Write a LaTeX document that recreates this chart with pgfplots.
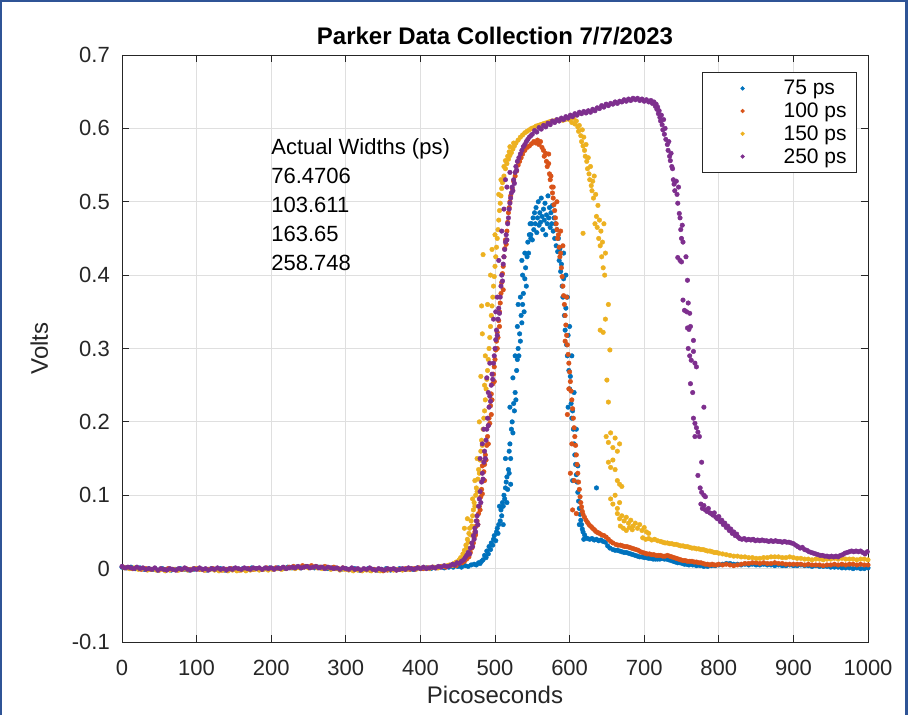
\documentclass[border=0pt]{standalone}
\usepackage{fontspec}
\setmainfont{Liberation Sans}
\usepackage{pgfplots}
\pgfplotsset{compat=1.18}
\definecolor{mblue}{rgb}{0,0.447,0.741}
\definecolor{morange}{rgb}{0.85,0.325,0.098}
\definecolor{myellow}{rgb}{0.929,0.694,0.125}
\definecolor{mpurple}{rgb}{0.494,0.184,0.556}
\definecolor{gridc}{rgb}{0.875,0.875,0.875}
\definecolor{axc}{rgb}{0.15,0.15,0.15}
\definecolor{framec}{RGB}{47,84,150}
\begin{document}
\begin{tikzpicture}
\useasboundingbox (0pt,0pt) rectangle (909pt,715pt);
\fill[white] (0pt,0pt) rectangle (909pt,715pt);
\begin{axis}[
  at={(122pt,73pt)}, anchor=south west,
  scale only axis, width=746pt, height=587pt,
  xmin=0, xmax=1000, ymin=-0.1, ymax=0.7,
  xtick={0,100,...,1000},
  ytick={-0.1,0,0.1,0.2,0.3,0.4,0.5,0.6,0.7},
  xticklabels={0,100,200,300,400,500,600,700,800,900,1000},
  yticklabels={-0.1,0,0.1,0.2,0.3,0.4,0.5,0.6,0.7},
  tick align=inside, major tick length=7pt,
  tick style={axc, line width=0.8pt},
  axis line style={axc, line width=0.8pt},
  grid=major, grid style={gridc, line width=0.8pt},
  ticklabel style={font=\fontsize{22}{26}\selectfont, text=axc, inner sep=0pt},
  xticklabel style={anchor=base, yshift=-33pt},
  yticklabel style={anchor=east, xshift=-12pt},
  title={Parker Data Collection 7/7/2023},
  title style={font=\bfseries\fontsize{24}{28}\selectfont, at={(axis description cs:0.5,1.0068)}, anchor=base, inner sep=0pt},
  xlabel={Picoseconds},
  xlabel style={font=\fontsize{24}{28}\selectfont, text=axc, at={(axis description cs:0.5,-0.104)}, anchor=base, inner sep=0pt},
  ylabel={Volts},
  ylabel style={font=\fontsize{24}{28}\selectfont, text=axc, at={(axis description cs:-0.0992,0.5)}, anchor=base, inner sep=0pt},
  legend style={at={(axis description cs:0.9853,0.971)}, anchor=north east, draw=axc, line width=0.8pt, fill=white,
    inner xsep=8pt, inner ysep=6pt, font=\fontsize{21}{24}\selectfont, nodes={inner sep=2pt}, row sep=2.6pt},
  legend cell align=left,
  legend image code/.code={\path[draw=none,fill=none] (0pt,0pt) -- (71pt,0pt); \fill (32pt,0pt) circle (1.7pt);},
  every axis plot/.append style={only marks, mark=*, mark size=2.3pt, mark options={draw=none}},
]
% 75 ps
\addplot[color=mblue, mark options={fill=mblue}] coordinates {
(0,0.002)(6,0.001)(12,0.002)(18,0.000)(24,0.001)(30,-0.001)(36,0.000)(42,-0.001)(48,-0.002)(54,0.000)(60,-0.001)(66,-0.002)(72,-0.001)(78,0.000)(84,-0.001)(90,-0.002)(96,-0.001)(102,0.000)(108,-0.001)(114,-0.002)(120,0.000)(126,-0.001)(132,0.000)(138,-0.002)(144,-0.001)(150,0.000)(156,-0.001)(162,0.000)(168,-0.001)(174,0.001)(180,0.000)(186,-0.001)(192,0.000)(198,0.001)(204,0.000)(210,0.001)(216,0.000)(222,0.002)(228,0.001)(234,0.002)(240,0.001)(246,0.003)(252,0.002)(258,0.001)(264,0.002)(270,0.001)(276,0.000)(282,0.001)(288,0.000)(294,-0.001)(300,0.000)(306,-0.001)(312,0.000)(318,-0.002)(324,-0.001)(330,0.000)(336,-0.001)(342,-0.002)(348,-0.001)(354,0.000)(360,-0.002)(366,-0.001)(372,0.000)(378,-0.001)(384,0.000)(390,-0.001)(396,0.001)(402,0.000)(408,0.001)(414,0.000)(420,0.001)(426,0.002)(432,0.001)(438,0.002)
(444,0.002)(450,0.003)(455,0.002)(460,0.004)(464,0.003)(468,0.005)(472,0.006)(475,0.005)(478,0.008)(480,0.007)(482,0.010)
(484,0.012)(486,0.018)(488,0.015)(489,0.024)(491,0.020)(492,0.030)(494,0.026)(495,0.035)(497,0.032)(498,0.040)(499,0.045)(501,0.038)(502,0.050)(503,0.055)(504,0.048)(505,0.060)(507,0.065)(508,0.080)(509,0.072)(510,0.090)(511,0.085)(512,0.100)(513,0.095)(514,0.110)(515,0.118)(516,0.125)(517,0.108)(518,0.135)(519,0.160)(520,0.170)(521,0.150)(522,0.190)(523,0.200)(524,0.185)(525,0.225)(526,0.215)(527,0.240)(528,0.230)(529,0.270)(530,0.285)(531,0.300)(532,0.290)(533,0.320)(534,0.310)(535,0.345)(536,0.335)(537,0.360)(538,0.375)(539,0.350)(540,0.395)(541,0.410)(542,0.385)(543,0.425)(544,0.445)(545,0.430)(546,0.455)(547,0.470)(548,0.450)
(519,0.130)(514,0.150)(524,0.260)(520,0.220)(530,0.330)(527,0.290)(534,0.370)(531,0.360)(537,0.400)(540,0.430)(536,0.420)(516,0.090)(521,0.115)(511,0.060)(506,0.085)
(548,0.455)(549,0.470)(550,0.448)(551,0.478)(552,0.462)(553,0.485)(554,0.470)(555,0.492)(556,0.458)(557,0.478)(558,0.500)(559,0.468)(560,0.485)(561,0.472)(562,0.505)(563,0.480)(564,0.462)(565,0.490)(566,0.475)(567,0.498)(568,0.455)(569,0.482)(570,0.470)(571,0.508)(572,0.478)(573,0.492)(574,0.465)(575,0.485)(576,0.470)(577,0.495)(578,0.460)(579,0.478)(580,0.450)(581,0.470)(582,0.440)(583,0.462)(584,0.432)(585,0.450)(586,0.420)(587,0.436)(588,0.405)(589,0.415)
(590,0.385)(591,0.370)(592,0.395)(593,0.345)(594,0.325)(595,0.355)(596,0.305)(597,0.290)(598,0.318)(599,0.270)(600,0.245)(601,0.262)(602,0.225)(603,0.205)(604,0.215)(605,0.190)(606,0.170)(607,0.155)(608,0.142)(609,0.128)(610,0.118)(611,0.104)(612,0.092)(613,0.082)(614,0.074)(615,0.066)(616,0.060)(617,0.054)(618,0.050)(620,0.046)(622,0.042)(624,0.041)(627,0.040)(630,0.041)(633,0.039)(636,0.040)(636,0.110)(639,0.038)(642,0.039)(645,0.037)(648,0.036)(651,0.031)(654,0.028)
(592,0.430)(595,0.400)(597,0.370)(600,0.330)(603,0.290)(598,0.220)(606,0.240)(609,0.190)(604,0.120)(611,0.140)(613,0.060)(619,0.040)
(658,0.026)(661,0.025)(664,0.025)(667,0.024)(670,0.023)(673,0.022)(676,0.022)(679,0.021)(682,0.020)(685,0.019)(688,0.018)(691,0.017)(694,0.016)(697,0.016)(700,0.015)(703,0.015)(706,0.014)(709,0.014)(712,0.013)(715,0.013)(718,0.013)(721,0.013)(724,0.014)(727,0.013)(730,0.013)(733,0.012)(736,0.011)(739,0.010)(742,0.009)(745,0.008)(748,0.008)(751,0.007)(754,0.006)(757,0.006)(760,0.005)(765,0.005)(770,0.004)(775,0.004)(780,0.003)(785,0.003)(790,0.004)(795,0.004)(800,0.005)(805,0.006)(810,0.007)(815,0.007)(820,0.006)(825,0.006)(830,0.005)(835,0.006)(840,0.005)(845,0.006)(850,0.005)(855,0.005)(860,0.006)(865,0.005)(870,0.005)(875,0.004)(880,0.005)(885,0.004)(890,0.004)(895,0.005)(900,0.004)(905,0.004)(910,0.005)(915,0.004)(920,0.004)(925,0.003)(930,0.004)(935,0.003)(940,0.003)(945,0.003)(950,0.002)(955,0.002)(960,0.002)(965,0.001)(970,0.001)(975,0.001)(980,0.000)(985,0.001)(990,0.000)(995,0.000)(1000,0.001)
};
\addlegendentry{75 ps}
% 100 ps
\addplot[color=morange, mark options={fill=morange}] coordinates {
(2,0.002)(8,0.001)(14,0.000)(20,0.001)(26,-0.001)(32,0.000)(38,-0.001)(44,0.000)(50,-0.002)(56,-0.001)(62,0.000)(68,-0.001)(74,-0.002)(80,-0.001)(86,0.000)(92,-0.001)(98,0.000)(104,-0.001)(110,-0.002)(116,-0.001)(122,0.000)(128,-0.001)(134,-0.002)(140,-0.001)(146,0.000)(152,-0.001)(158,-0.002)(164,-0.001)(170,0.000)(176,-0.001)(182,0.000)(188,-0.001)(194,0.001)(200,0.000)(206,0.001)(212,0.000)(218,0.001)(224,0.002)(230,0.003)(236,0.002)(242,0.004)(248,0.003)(254,0.004)(260,0.003)(266,0.002)(272,0.003)(278,0.001)(284,0.002)(290,0.000)(296,0.001)(302,-0.001)(308,0.000)(314,-0.001)(320,-0.002)(326,-0.001)(332,-0.002)(338,-0.001)(344,-0.002)(350,-0.003)(356,-0.002)(362,-0.001)(368,-0.002)(374,-0.001)(380,0.000)(386,-0.001)(392,0.000)(398,0.001)(404,0.000)(410,0.001)(416,0.002)(422,0.001)(428,0.003)(434,0.002)(440,0.004)
(444,0.005)(448,0.004)(452,0.007)(456,0.008)(459,0.010)(462,0.013)(465,0.016)(467,0.022)(469,0.028)(471,0.035)(472,0.042)(473,0.050)(474,0.046)(475,0.058)(476,0.065)(477,0.060)(478,0.075)(479,0.085)(480,0.080)(481,0.098)(482,0.108)(483,0.102)(484,0.120)(485,0.132)(486,0.142)(487,0.155)(488,0.148)(489,0.168)(490,0.180)(491,0.195)(492,0.205)(493,0.198)(494,0.222)(495,0.238)(496,0.230)(497,0.252)(498,0.265)(499,0.275)(500,0.285)(501,0.298)(502,0.310)(503,0.322)(504,0.315)(505,0.338)(506,0.350)(507,0.362)(508,0.375)(509,0.390)(510,0.402)(511,0.412)(512,0.425)(513,0.436)(514,0.448)(515,0.442)(516,0.460)(517,0.472)(518,0.485)(519,0.492)(520,0.500)(521,0.508)(523,0.518)(525,0.528)(527,0.535)(529,0.542)(531,0.550)(533,0.555)(535,0.560)(537,0.565)(540,0.570)(543,0.574)(546,0.576)(549,0.579)(552,0.582)(555,0.580)(557,0.584)(559,0.578)(561,0.582)(563,0.574)(565,0.570)(566,0.562)(568,0.566)(569,0.555)(570,0.548)(572,0.552)(573,0.538)(574,0.530)(575,0.535)(576,0.520)(577,0.512)(578,0.505)(579,0.496)(580,0.488)(581,0.478)(582,0.470)(583,0.462)(584,0.450)(585,0.455)(586,0.438)(587,0.425)(588,0.430)(589,0.410)(590,0.398)(591,0.385)(592,0.372)(593,0.360)(594,0.345)(595,0.332)(596,0.318)(597,0.305)(598,0.292)(599,0.280)(600,0.268)(601,0.255)(602,0.242)(603,0.230)(604,0.218)(605,0.205)(606,0.192)(607,0.180)(608,0.168)(609,0.155)(610,0.142)(611,0.130)(612,0.118)(613,0.108)(614,0.098)(615,0.090)(616,0.084)(617,0.078)(618,0.074)(620,0.070)(622,0.066)(624,0.063)(626,0.060)(628,0.058)(630,0.056)(632,0.054)(634,0.052)(636,0.050)(638,0.049)(640,0.048)(643,0.046)(646,0.045)(649,0.043)(652,0.040)(655,0.037)(658,0.035)
(583,0.500)(588,0.460)(591,0.440)(596,0.370)(594,0.310)(599,0.245)(597,0.210)(603,0.170)(601,0.130)(606,0.120)(604,0.080)(609,0.075)(578,0.520)(572,0.565)(486,0.120)(483,0.140)(491,0.170)(495,0.210)(499,0.255)(503,0.300)(506,0.330)(511,0.380)
(662,0.033)(665,0.032)(668,0.032)(671,0.031)(674,0.030)(677,0.030)(680,0.029)(683,0.028)(686,0.027)(689,0.026)(692,0.025)(695,0.023)(698,0.022)(701,0.021)(704,0.020)(707,0.020)(710,0.019)(713,0.019)(716,0.018)(719,0.018)(722,0.018)(725,0.017)(728,0.017)(731,0.018)(734,0.017)(737,0.016)(740,0.015)(743,0.014)(746,0.013)(749,0.012)(752,0.011)(755,0.011)(758,0.010)(761,0.010)(764,0.010)(767,0.009)(770,0.009)(773,0.008)(776,0.008)(779,0.007)(782,0.006)(785,0.006)(788,0.005)(791,0.006)(794,0.005)(797,0.005)(800,0.006)(805,0.005)(810,0.006)(815,0.005)(820,0.004)(825,0.005)(830,0.006)(835,0.007)(840,0.007)(845,0.008)(850,0.008)(855,0.007)(860,0.008)(865,0.007)(870,0.007)(875,0.008)(880,0.007)(885,0.007)(890,0.006)(895,0.006)(900,0.006)(905,0.006)(910,0.006)(915,0.005)(920,0.006)(925,0.005)(930,0.005)(935,0.005)(940,0.004)(945,0.005)(950,0.005)(955,0.006)(960,0.005)(965,0.006)(970,0.005)(975,0.006)(980,0.006)(985,0.005)(990,0.006)(995,0.005)(1000,0.005)
};
\addlegendentry{100 ps}
% 150 ps
\addplot[color=myellow, mark options={fill=myellow}] coordinates {
(4,0.001)(10,0.000)(16,0.001)(22,-0.001)(28,0.000)(34,-0.002)(40,-0.001)(46,-0.002)(52,-0.001)(58,-0.003)(64,-0.002)(70,-0.001)(76,-0.002)(82,-0.001)(88,-0.002)(94,-0.001)(100,0.000)(106,-0.001)(112,-0.002)(118,-0.001)(124,-0.002)(130,-0.003)(136,-0.002)(142,-0.003)(148,-0.002)(154,-0.003)(160,-0.002)(166,-0.003)(172,-0.002)(178,-0.001)(184,-0.002)(190,-0.001)(196,-0.002)(202,-0.001)(208,0.000)(214,-0.001)(220,0.000)(226,0.001)(232,0.000)(238,0.001)(244,0.002)(250,0.001)(256,0.002)(262,0.001)(268,0.000)(274,0.001)(280,-0.001)(286,0.000)(292,-0.002)(298,-0.001)(304,-0.002)(310,-0.003)(316,-0.002)(322,-0.003)(328,-0.002)(334,-0.003)(340,-0.002)(346,-0.003)(352,-0.002)(358,-0.001)(364,-0.002)(370,-0.001)(376,-0.002)(382,-0.001)(388,0.000)(394,-0.001)(400,0.000)(406,0.001)(412,0.000)(418,0.002)(424,0.001)(430,0.003)(436,0.004)
(439,0.005)(442,0.004)(445,0.007)(448,0.009)(450,0.008)(452,0.012)(454,0.015)(456,0.013)(457,0.020)(459,0.025)(459,0.055)(460,0.018)(461,0.032)(462,0.028)(463,0.040)(463,0.068)(464,0.036)(465,0.048)(466,0.055)(467,0.046)(468,0.065)(469,0.058)(470,0.072)(471,0.080)(472,0.090)(473,0.085)(474,0.100)(475,0.110)(476,0.105)(477,0.122)(478,0.135)(479,0.130)(479,0.200)(480,0.148)(481,0.160)(481,0.262)(482,0.175)(482,0.358)(483,0.168)(484,0.190)(484,0.428)(485,0.205)(486,0.215)(486,0.250)(487,0.230)(488,0.245)(489,0.258)(490,0.270)(491,0.285)(492,0.300)(493,0.315)(494,0.330)(495,0.345)(496,0.358)(496,0.435)(497,0.370)(498,0.385)(499,0.398)(500,0.412)(501,0.425)(502,0.438)(503,0.450)(504,0.462)(505,0.475)(506,0.488)(507,0.498)(508,0.508)(509,0.518)(510,0.526)(512,0.535)(512,0.548)(514,0.545)(514,0.556)(516,0.552)(517,0.562)(518,0.558)(519,0.568)(520,0.563)(520,0.575)(522,0.567)(524,0.572)(525,0.580)(526,0.576)(528,0.580)(531,0.584)(534,0.588)(537,0.591)(540,0.594)(543,0.596)(546,0.598)(549,0.600)(552,0.601)(555,0.603)(558,0.604)(561,0.605)(564,0.606)(567,0.607)(570,0.608)(573,0.609)(576,0.610)(579,0.610)(582,0.611)(585,0.611)(588,0.612)(591,0.611)(594,0.612)(597,0.613)
(487,0.290)(483,0.320)(490,0.360)(494,0.400)(500,0.455)(505,0.510)(508,0.530)(476,0.150)(473,0.120)(470,0.095)
(600,0.612)(603,0.608)(605,0.614)(607,0.606)(609,0.610)(611,0.602)(612,0.596)(613,0.604)(615,0.590)(616,0.582)(617,0.598)(618,0.576)(618,0.457)(619,0.588)(620,0.570)(621,0.562)(622,0.578)(623,0.555)(624,0.545)(625,0.560)(626,0.538)(627,0.530)(628,0.548)(629,0.522)(630,0.515)(631,0.528)(632,0.505)(633,0.535)(634,0.470)(635,0.510)(636,0.480)(637,0.465)(638,0.495)(639,0.450)(640,0.475)(641,0.440)(642,0.460)(643,0.425)(644,0.445)(645,0.410)(646,0.470)(647,0.400)(648,0.430)(641,0.325)(645,0.322)(648,0.340)(652,0.360)(654,0.298)(650,0.257)(652,0.227)(649,0.180)(652,0.172)(655,0.185)(658,0.165)(661,0.178)(664,0.160)(667,0.170)(652,0.145)(655,0.138)(658,0.148)(661,0.135)(664,0.120)(667,0.115)(670,0.112)(655,0.095)(658,0.088)(661,0.100)(664,0.082)(667,0.090)(664,0.075)(667,0.068)(670,0.072)(673,0.065)(676,0.070)(679,0.062)(682,0.066)(685,0.058)(688,0.062)(691,0.055)(694,0.060)(697,0.052)(700,0.056)(703,0.050)(706,0.048)(668,0.058)(672,0.055)(676,0.052)(680,0.056)(684,0.053)
(698,0.042)(702,0.040)(706,0.041)(710,0.039)(714,0.040)(718,0.038)(722,0.037)(725,0.036)(728,0.035)(731,0.035)(734,0.034)(737,0.034)(740,0.033)(743,0.033)(746,0.032)(749,0.031)(752,0.031)(755,0.030)(758,0.030)(761,0.029)(764,0.028)(767,0.028)(770,0.027)(773,0.027)(776,0.026)(779,0.026)(782,0.025)(785,0.024)(788,0.024)(791,0.023)(794,0.022)(797,0.022)(800,0.021)(805,0.020)(810,0.019)(815,0.018)(820,0.017)(825,0.017)(830,0.016)(835,0.016)(840,0.015)(845,0.015)(850,0.014)(855,0.014)(860,0.015)(865,0.015)(870,0.016)(875,0.016)(880,0.016)(885,0.015)(890,0.015)(895,0.016)(900,0.015)(905,0.014)(910,0.014)(915,0.013)(920,0.013)(925,0.012)(930,0.013)(935,0.013)(940,0.012)(945,0.013)(950,0.013)(955,0.014)(960,0.013)(965,0.014)(970,0.013)(975,0.013)(980,0.013)(985,0.012)(990,0.013)(995,0.013)(1000,0.012)
};
\addlegendentry{150 ps}
% 250 ps
\addplot[color=mpurple, mark options={fill=mpurple}] coordinates {
(0,0.003)(4,0.001)(8,0.002)(12,0.001)(16,0.000)(20,0.002)(24,0.000)(28,0.001)(32,-0.001)(36,0.000)(40,-0.001)(44,0.001)(48,-0.002)(52,0.000)(56,-0.001)(60,-0.002)(64,0.000)(68,-0.001)(72,-0.002)(76,0.000)(80,-0.001)(84,0.001)(88,-0.001)(92,-0.002)(96,0.000)(100,-0.001)(104,0.001)(108,-0.001)(112,0.000)(116,-0.002)(120,0.000)(124,-0.001)(128,0.001)(132,-0.001)(136,0.000)(140,-0.002)(144,0.000)(148,-0.001)(152,0.001)(156,0.000)(160,-0.001)(164,0.001)(168,0.000)(172,-0.001)(176,0.001)(180,0.000)(184,0.001)(188,-0.001)(192,0.001)(196,0.000)(200,0.001)(204,-0.001)(208,0.001)(212,0.000)(216,0.002)(220,0.000)(224,0.001)(228,0.002)(232,0.001)(236,0.003)(240,0.001)(244,0.002)(248,0.003)(252,0.001)(256,0.002)(260,0.003)(264,0.001)(268,0.002)(272,0.000)(276,0.002)(280,0.001)(284,0.000)(288,0.001)(292,-0.001)(296,0.001)(300,0.000)(304,-0.001)(308,0.001)(312,-0.001)(316,0.000)(320,-0.002)(324,0.000)(328,-0.001)(332,0.001)(336,-0.001)(340,-0.002)(344,0.000)(348,-0.001)(352,-0.002)(356,0.000)(360,-0.001)(364,0.000)(368,-0.002)(372,-0.001)(376,0.000)(380,-0.001)(384,0.001)(388,0.000)(392,-0.001)(396,0.001)(400,0.000)(404,0.002)(408,0.000)(412,0.001)(416,0.002)(420,0.001)(424,0.003)(428,0.002)(432,0.004)(436,0.003)
(440,0.004)(443,0.006)(446,0.005)(449,0.008)(452,0.007)(455,0.010)(458,0.012)(460,0.015)(462,0.018)(464,0.022)(466,0.020)(467,0.028)(469,0.035)(470,0.030)(471,0.045)(472,0.040)(473,0.055)(474,0.050)(475,0.065)(476,0.072)(477,0.060)(478,0.085)(479,0.095)(480,0.105)(481,0.090)(482,0.118)(483,0.130)(484,0.122)(485,0.145)(486,0.160)(487,0.150)(488,0.175)(489,0.190)(490,0.205)(491,0.195)(492,0.220)(493,0.235)(494,0.228)(495,0.250)(496,0.265)(497,0.258)(498,0.280)(499,0.290)(500,0.300)(501,0.312)(502,0.325)(503,0.318)(504,0.340)(505,0.355)(506,0.348)(507,0.370)(508,0.385)(509,0.400)(510,0.392)(511,0.415)(512,0.425)(513,0.435)(514,0.445)(515,0.455)(516,0.448)(517,0.470)(518,0.478)(519,0.490)(520,0.498)(521,0.505)(522,0.512)(523,0.520)(524,0.515)(525,0.530)(526,0.525)(527,0.540)(528,0.548)(529,0.543)(530,0.555)(532,0.560)(534,0.565)(536,0.570)(538,0.575)(540,0.578)(542,0.582)(544,0.585)(546,0.588)(548,0.590)
(480,0.150)(485,0.190)(489,0.260)(493,0.280)(498,0.340)(503,0.370)(505,0.420)(509,0.460)(512,0.490)(516,0.520)(520,0.540)(514,0.530)(483,0.170)(491,0.240)(501,0.350)
(550,0.592)(553,0.597)(556,0.595)(559,0.601)(562,0.599)(565,0.604)(568,0.602)(571,0.607)(574,0.605)(577,0.610)(580,0.608)(583,0.612)(586,0.610)(589,0.614)(592,0.612)(595,0.616)(598,0.614)(601,0.618)(604,0.616)(607,0.620)(610,0.618)(613,0.622)(616,0.620)(619,0.623)(622,0.621)(625,0.624)(628,0.622)(631,0.626)(634,0.624)(637,0.628)(640,0.627)(643,0.631)(646,0.629)(649,0.633)(652,0.631)(655,0.634)(658,0.633)(661,0.636)(664,0.634)(667,0.637)(670,0.636)(673,0.639)(676,0.637)(679,0.640)(682,0.638)(685,0.641)(688,0.639)(691,0.641)(694,0.638)(697,0.640)(700,0.637)(703,0.639)(706,0.636)(709,0.638)(711,0.634)(713,0.636)(715,0.630)(716,0.633)(717,0.626)(718,0.629)(719,0.620)(720,0.624)(721,0.615)(722,0.610)(723,0.618)(724,0.605)(725,0.598)(726,0.612)(727,0.592)(728,0.600)(729,0.585)(731,0.578)(732,0.570)(733,0.582)(734,0.562)(735,0.556)(736,0.566)(737,0.548)(738,0.545)(739,0.530)(740,0.524)(741,0.515)(743,0.528)(744,0.510)(745,0.498)(746,0.520)(747,0.484)(748,0.478)(749,0.462)(750,0.450)(751,0.468)(752,0.445)(745,0.424)(748,0.420)(750,0.418)(756,0.425)(758,0.393)(752,0.366)(754,0.352)(757,0.350)(759,0.362)(761,0.348)(758,0.328)(760,0.326)(762,0.330)(766,0.311)(759,0.300)(761,0.290)(763,0.284)(766,0.296)(768,0.280)(770,0.275)(762,0.252)(765,0.240)(780,0.220)(766,0.205)(768,0.198)(770,0.192)(772,0.186)(774,0.180)(768,0.180)(777,0.145)(772,0.127)(775,0.110)(777,0.104)(780,0.100)(782,0.098)(776,0.088)(778,0.082)(780,0.086)(782,0.080)(784,0.078)(786,0.082)(788,0.076)(790,0.075)(792,0.073)(794,0.076)(796,0.070)(798,0.068)(800,0.071)(802,0.064)(804,0.066)(806,0.060)(808,0.062)(810,0.056)(812,0.058)(814,0.052)(816,0.054)(818,0.048)(820,0.050)(822,0.045)(824,0.047)(826,0.043)(828,0.041)
(831,0.040)(834,0.041)(837,0.039)(840,0.040)(843,0.039)(846,0.040)(849,0.038)(852,0.039)(855,0.038)(858,0.039)(861,0.038)(864,0.038)(867,0.037)(870,0.038)(873,0.037)(876,0.038)(879,0.037)(882,0.037)(885,0.036)(888,0.037)(891,0.036)(894,0.036)(897,0.035)(900,0.034)(903,0.032)(906,0.030)(909,0.028)(912,0.029)(915,0.026)(918,0.025)(921,0.023)(924,0.022)(927,0.021)(930,0.020)(933,0.019)(936,0.018)(939,0.018)(942,0.017)(945,0.017)(948,0.016)(951,0.017)(954,0.016)(957,0.017)(960,0.016)(963,0.018)(966,0.019)(969,0.021)(972,0.022)(975,0.023)(978,0.024)(981,0.023)(984,0.024)(987,0.023)(990,0.024)(993,0.022)(996,0.020)(999,0.023)
};
\addlegendentry{250 ps}
\node[anchor=north west, align=left, inner sep=0pt, font=\fontsize{22}{29}\selectfont, text=black] at (axis cs:200,0.587) {Actual Widths (ps)\\76.4706\\103.611\\163.65\\258.748};
\end{axis}
\draw[framec, line width=2.5pt] (1.2pt,0pt) -- (1.2pt,713.8pt) -- (906.5pt,713.8pt) -- (906.5pt,0pt);
\end{tikzpicture}
\end{document}
